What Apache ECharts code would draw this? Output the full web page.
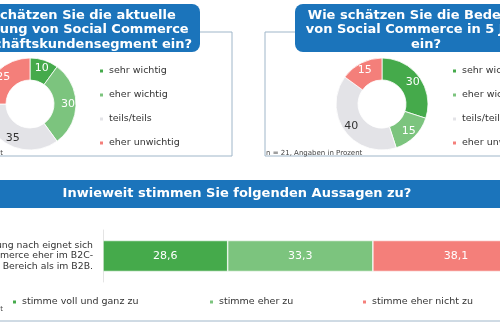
<!DOCTYPE html>
<html>
<head>
<meta charset="utf-8">
<script src="https://cdn.jsdelivr.net/npm/echarts@6/dist/echarts.min.js"></script>
<style>
  html, body { margin: 0; padding: 0; background: #fff; }
  #chart { width: 500px; height: 330px; }
</style>
</head>
<body>
<div id="chart"></div>
<script>
// Survey answers (percent), n = 21
const ratingCategories = ['sehr wichtig', 'eher wichtig', 'teils/teils', 'eher unwichtig'];
const currentValues = [10, 30, 35, 25];
const futureValues = [30, 15, 40, 15];

const agreementCategories = ['stimme voll und ganz zu', 'stimme eher zu', 'stimme eher nicht zu'];
const agreementValues = [28.6, 33.3, 38.1];
const statements = ['Meiner Meinung nach eignet sich\nSocial Commerce eher im B2C-\nBereich als im B2B.'];

const ratingColors = ['#45aa4b', '#7cc47e', '#e3e3e7', '#f47f7a'];
const agreementColors = ['#45aa4b', '#7cc47e', '#f47f7a'];

const FONT = '"DejaVu Sans", Verdana, sans-serif';
const BLUE = '#1b74bb';
const FRAME = '#9fb6c9';

function pieData(values) {
  return values.map((v, i) => ({
    name: ratingCategories[i],
    value: v,
    itemStyle: { color: ratingColors[i] },
    label: { color: i === 2 ? '#333333' : '#ffffff' }
  }));
}

function pieSeries(values, center) {
  return {
    type: 'pie',
    radius: [24, 46],
    center: center,
    startAngle: 90,
    clockwise: true,
    silent: true,
    itemStyle: { borderColor: '#ffffff', borderWidth: 0.8 },
    label: {
      show: true,
      position: 'inside',
      fontSize: 11,
      fontFamily: FONT,
      formatter: '{c}'
    },
    labelLine: { show: false },
    data: pieData(values)
  };
}

const barSeries = agreementCategories.map((name, i) => ({
  name: name,
  type: 'bar',
  stack: 'total',
  barWidth: 31,
  silent: true,
  itemStyle: { color: agreementColors[i], borderColor: '#ffffff', borderWidth: 0.6 },
  label: {
    show: true,
    position: 'inside',
    color: '#ffffff',
    fontSize: 11,
    fontFamily: FONT,
    formatter: p => String(p.value).replace('.', ',')
  },
  data: [agreementValues[i]]
}));

function legendBase(extra) {
  return Object.assign({
    icon: 'rect',
    itemWidth: 5,
    itemHeight: 5,
    padding: 0,
    selectedMode: false,
    textStyle: { fontSize: 9.5, color: '#333333', fontFamily: FONT }
  }, extra);
}

const agreementLegendLeft = [11, 208, 361];

const chart = echarts.init(document.getElementById('chart'), null, { renderer: 'canvas' });

chart.setOption({
  backgroundColor: '#ffffff',
  animation: false,
  textStyle: { fontFamily: FONT },
  legend: [
    legendBase({ data: ratingCategories, orient: 'vertical', left: 98, top: 66, itemGap: 14 }),
    legendBase({ data: ratingCategories, orient: 'vertical', left: 451, top: 66, itemGap: 14 }),
    ...agreementCategories.map((name, i) =>
      legendBase({ data: [name], orient: 'horizontal', left: agreementLegendLeft[i], top: 297 }))
  ],
  grid: { left: 103, right: -39, top: 230, height: 52, outerBoundsMode: 'none', containLabel: false },
  xAxis: { type: 'value', min: 0, max: 100, show: false },
  yAxis: {
    type: 'category',
    data: statements,
    axisTick: { show: false },
    axisLine: { show: true, lineStyle: { color: '#e4e4e4', width: 1 } },
    axisLabel: {
      margin: 10,
      fontSize: 9.3,
      lineHeight: 10.5,
      color: '#333333',
      align: 'right',
      fontFamily: FONT
    }
  },
  series: [
    pieSeries(currentValues, [30, 104]),
    pieSeries(futureValues, [382, 104]),
    ...barSeries
  ],
  graphic: [
    // panel frames
    { type: 'polyline', silent: true, z: 1,
      shape: { points: [[200, 32], [232, 32], [232, 156], [-10, 156]] },
      style: { stroke: FRAME, lineWidth: 1, fill: null } },
    { type: 'polyline', silent: true, z: 1,
      shape: { points: [[295, 32], [265, 32], [265, 156], [510, 156]] },
      style: { stroke: FRAME, lineWidth: 1, fill: null } },
    { type: 'line', silent: true, z: 1,
      shape: { x1: -10, y1: 321, x2: 510, y2: 321 },
      style: { stroke: FRAME, lineWidth: 1 } },
    // question boxes
    { type: 'rect', silent: true, z: 2,
      shape: { x: -70, y: 4, width: 270, height: 48, r: 8 },
      style: { fill: BLUE } },
    { type: 'text', silent: true, z: 3,
      style: { x: 68, y: 30, text: 'Wie schätzen Sie die aktuelle\nBedeutung von Social Commerce\nim Geschäftskundensegment ein?',
               fill: '#ffffff', fontSize: 13, fontWeight: 'bold', fontFamily: FONT,
               align: 'center', verticalAlign: 'middle', lineHeight: 14.5 } },
    { type: 'rect', silent: true, z: 2,
      shape: { x: 295, y: 4, width: 270, height: 48, r: 8 },
      style: { fill: BLUE } },
    { type: 'text', silent: true, z: 3,
      style: { x: 426, y: 30, text: 'Wie schätzen Sie die Bedeutung\nvon Social Commerce in 5 Jahren\nein?',
               fill: '#ffffff', fontSize: 13, fontWeight: 'bold', fontFamily: FONT,
               align: 'center', verticalAlign: 'middle', lineHeight: 14.5 } },
    // statement header
    { type: 'rect', silent: true, z: 2,
      shape: { x: -10, y: 180, width: 520, height: 28 },
      style: { fill: BLUE } },
    { type: 'text', silent: true, z: 3,
      style: { x: 237, y: 194, text: 'Inwieweit stimmen Sie folgenden Aussagen zu?',
               fill: '#ffffff', fontSize: 13, fontWeight: 'bold', fontFamily: FONT,
               align: 'center', verticalAlign: 'middle' } },
    // sample notes
    { type: 'text', silent: true, z: 3,
      style: { x: 3, y: 153, text: 'n = 21, Angaben in Prozent', fill: '#444444',
               fontSize: 7, fontFamily: FONT, align: 'right', verticalAlign: 'middle' } },
    { type: 'text', silent: true, z: 3,
      style: { x: 266, y: 153, text: 'n = 21, Angaben in Prozent', fill: '#444444',
               fontSize: 7, fontFamily: FONT, align: 'left', verticalAlign: 'middle' } },
    { type: 'text', silent: true, z: 3,
      style: { x: 3, y: 309, text: 'n = 21, Angaben in Prozent', fill: '#444444',
               fontSize: 7, fontFamily: FONT, align: 'right', verticalAlign: 'middle' } }
  ]
});
</script>
</body>
</html>
